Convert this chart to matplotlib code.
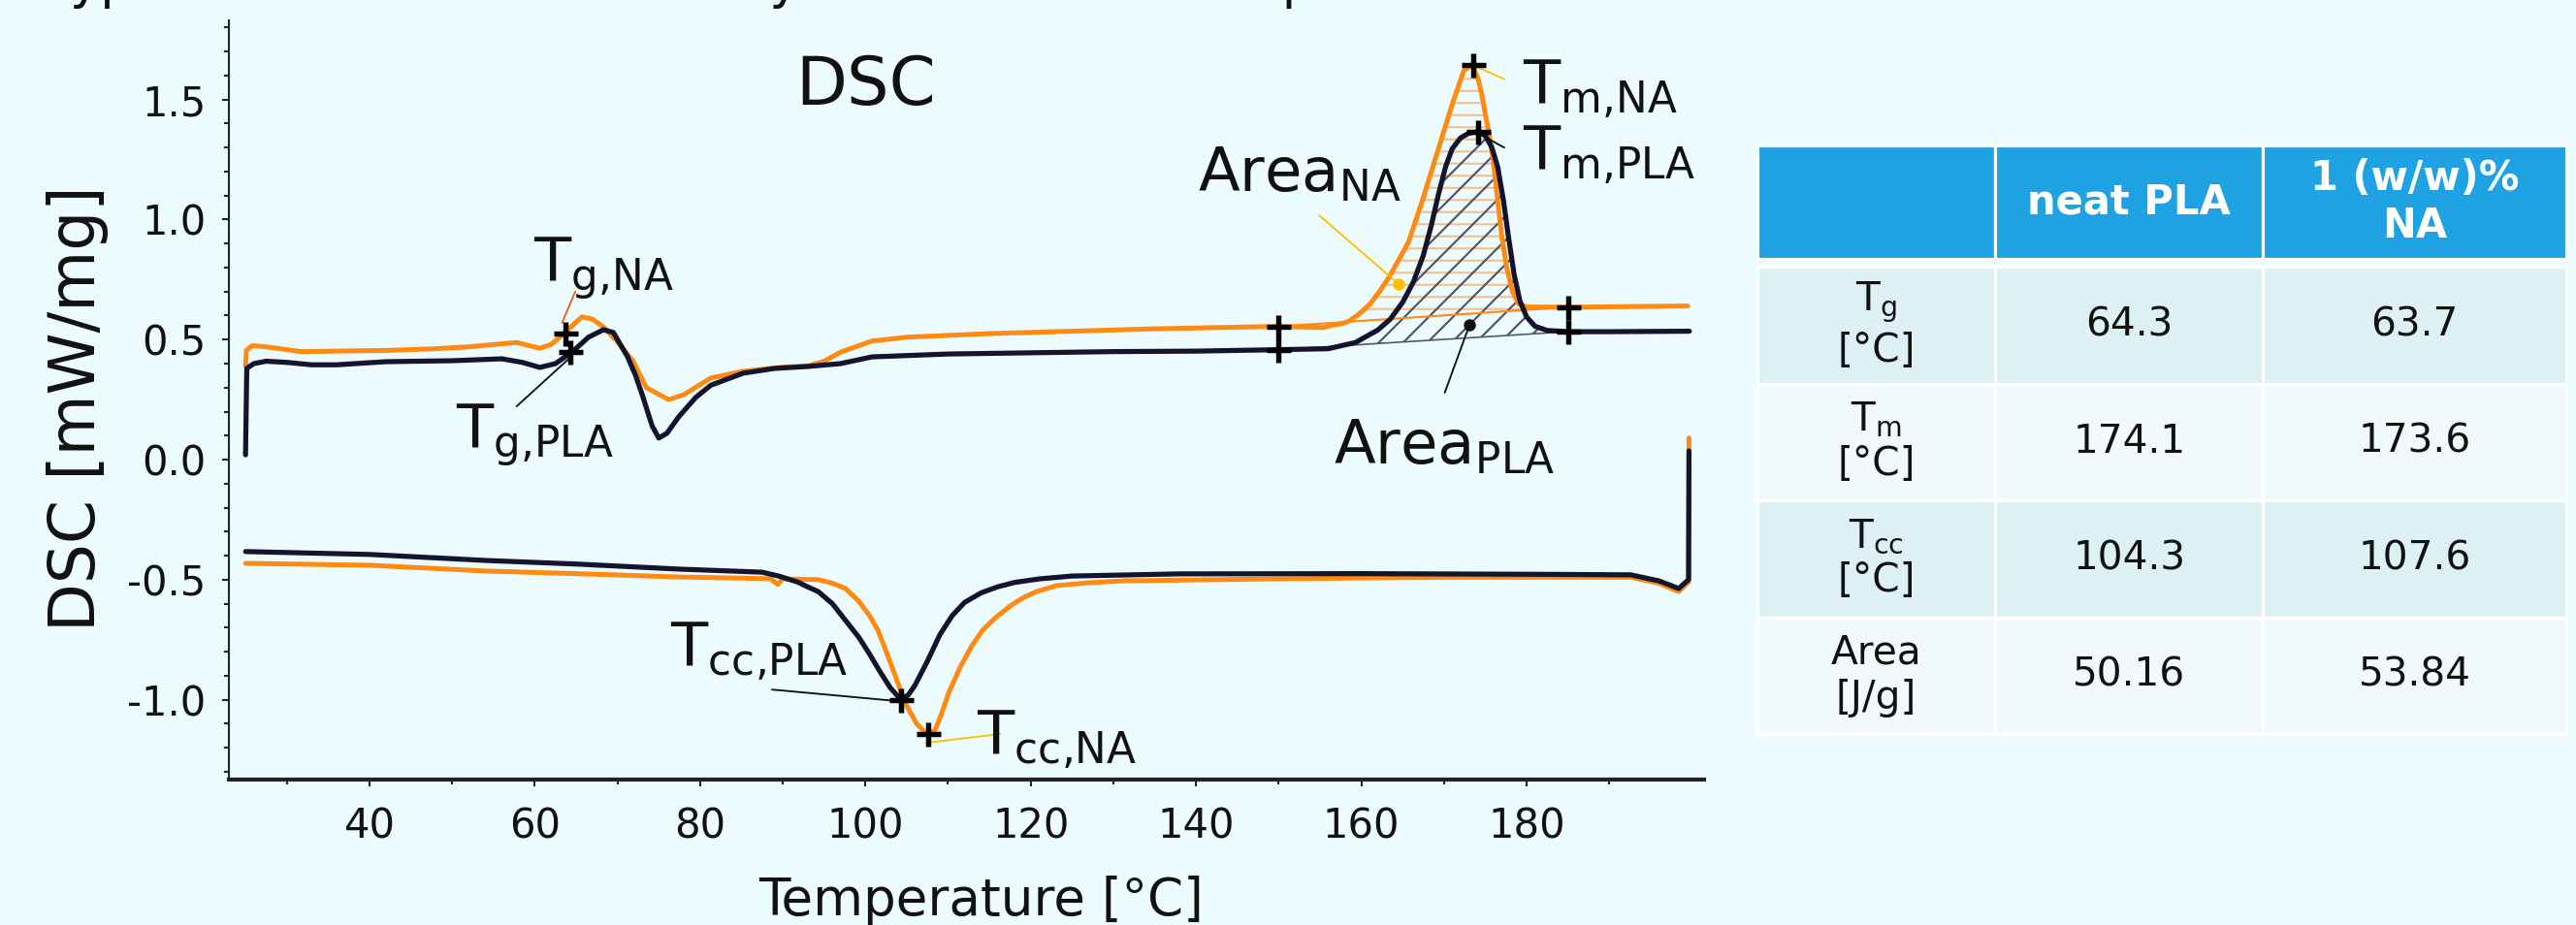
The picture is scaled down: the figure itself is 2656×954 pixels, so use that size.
"""
plot.py - DSC curves of neat PLA vs. PLA + 1 (w/w)% NA.

Heating (upper) and cooling (lower) traces with the evaluated
Tg / Tcc / Tm points, the hatched melting areas and a result table.
"""

import numpy as np
import matplotlib
matplotlib.use("Agg")  # headless
import matplotlib.pyplot as plt

# ---------------------------------------------------------------------------
# Data
# ---------------------------------------------------------------------------

# heating run, neat PLA
heat_pla_t = [25.0, 25.15, 26.0, 27.5, 30, 33, 36, 42, 50, 56, 58.5, 60.6, 62.5,
              64.5, 66.5, 68.3, 69.5, 71.2, 72.2, 73.0, 74.2, 75.0, 76.0, 77.4,
              79.5, 81.3, 85.2, 89, 93, 97, 100.8, 110, 120, 130, 140, 150, 156,
              159.3, 162.0, 163.5, 165.0, 166.3, 167.5, 168.5, 169.3, 170.2,
              171.0, 172.0, 173.0, 174.1, 175.0, 175.8, 176.5, 177.2, 177.8,
              178.5, 179.2, 180.0, 181.0, 182.5, 185, 190, 199.7]
heat_pla_v = [0.02, 0.38, 0.40, 0.41, 0.405, 0.395, 0.395, 0.408, 0.412, 0.42,
              0.405, 0.384, 0.40, 0.448, 0.51, 0.541, 0.53, 0.43, 0.35, 0.27,
              0.14, 0.09, 0.11, 0.178, 0.26, 0.31, 0.36, 0.38, 0.388, 0.40,
              0.428, 0.44, 0.445, 0.45, 0.452, 0.458, 0.462, 0.488, 0.54, 0.585,
              0.655, 0.74, 0.85, 0.98, 1.10, 1.22, 1.295, 1.34, 1.36, 1.366,
              1.35, 1.30, 1.22, 1.08, 0.93, 0.77, 0.66, 0.595, 0.556, 0.538,
              0.533, 0.533, 0.535]

# heating run, 1 (w/w)% NA
heat_na_t = [25.0, 25.1, 25.8, 27.5, 31.7, 36, 42.2, 48, 52, 57.8, 60.6, 62.0,
             63.5, 65.7, 67.0, 68.4, 70.0, 71.9, 73.5, 76.2, 78.0, 81.3, 85.2,
             90, 93, 95, 97, 100.8, 105, 115, 125, 135, 150, 155.4, 156.5,
             157.5, 158.4, 159.5, 160.5, 161.1, 162.2, 163.3, 164.5, 165.7,
             167.4, 169.2, 171.0, 172.4, 173.4, 174.1, 174.6, 175.0, 175.5,
             176.0, 176.5, 177.0, 177.6, 178.3, 179.0, 180.0, 185, 199.5]
heat_na_v = [0.39, 0.455, 0.475, 0.47, 0.45, 0.452, 0.455, 0.462, 0.47, 0.488,
             0.464, 0.48, 0.525, 0.595, 0.585, 0.55, 0.49, 0.41, 0.30, 0.25,
             0.27, 0.34, 0.368, 0.385, 0.39, 0.41, 0.448, 0.494, 0.51, 0.525,
             0.535, 0.545, 0.555, 0.55, 0.56, 0.565, 0.575, 0.60, 0.63, 0.65,
             0.70, 0.757, 0.83, 0.905, 1.08, 1.28, 1.48, 1.62, 1.645, 1.59,
             1.52, 1.44, 1.35, 1.24, 1.08, 0.93, 0.80, 0.70, 0.65, 0.636,
             0.635, 0.64]

# cooling run, neat PLA
cool_pla_t = [25.0, 40, 54, 65, 77.4, 87.5, 89.5, 91.8, 93.0, 94.3, 96.0, 97.6,
              99.2, 100.5, 101.8, 103.0, 104.3, 105.2, 106.0, 107.5, 109.0,
              110.5, 112.0, 114.0, 116.0, 118.0, 121.0, 125.0, 138, 160, 182.9,
              192.6, 196, 198.4, 199.6, 199.65]
cool_pla_v = [-0.383, -0.395, -0.42, -0.435, -0.456, -0.469, -0.485, -0.51,
              -0.53, -0.55, -0.60, -0.67, -0.74, -0.81, -0.885, -0.95, -1.0,
              -0.98, -0.94, -0.84, -0.73, -0.65, -0.595, -0.555, -0.53, -0.512,
              -0.497, -0.485, -0.476, -0.475, -0.478, -0.48, -0.505, -0.537,
              -0.50, 0.036]

# cooling run, 1 (w/w)% NA
cool_na_t = [25.0, 40, 54, 65, 77.4, 88.5, 89.4, 90.0, 94.3, 96.0, 97.6, 99.2,
             100.5, 101.5, 102.3, 103.5, 104.9, 106.2, 107.4, 108.4, 109.2,
             110.1, 111.4, 112.8, 114.2, 115.7, 117.5, 119.1, 120.7, 123.1,
             127.0, 131.2, 151.4, 170, 183, 192.6, 196, 198.4, 199.6, 199.65]
cool_na_v = [-0.432, -0.44, -0.464, -0.475, -0.489, -0.496, -0.52, -0.497, -0.50,
             -0.515, -0.537, -0.59, -0.65, -0.71, -0.78, -0.89, -1.02, -1.10,
             -1.143, -1.13, -1.06, -0.97, -0.87, -0.78, -0.71, -0.66, -0.61,
             -0.575, -0.55, -0.525, -0.513, -0.505, -0.496, -0.49, -0.49,
             -0.49, -0.515, -0.55, -0.51, 0.09]

# evaluated points (+ markers)
pts_pla_t = [64.3, 174.1, 104.3, 150, 185]
pts_pla_v = [0.448, 1.366, -1.0, 0.458, 0.533]
pts_na_t = [63.7, 173.6, 107.6, 150, 185]
pts_na_v = [0.525, 1.645, -1.143, 0.555, 0.635]

# melting integration limits and baseline end values
area_limits = [150, 185]
base_pla = [0.458, 0.533]
base_na = [0.555, 0.635]

# result table
table_cols = ["", "neat PLA", "1 (w/w)%\nNA"]
table_rows = ["$T_g$\n[°C]", "$T_m$\n[°C]", "$T_{cc}$\n[°C]", "Area\n[J/g]"]
val_pla = ["64.3", "174.1", "104.3", "50.16"]
val_na = ["63.7", "173.6", "107.6", "53.84"]

# ---------------------------------------------------------------------------
# Style
# ---------------------------------------------------------------------------

BG = "#ECFCFE"
ORANGE = "#FF8A12"
NAVY = "#14142E"
GOLD = "#FFC000"
RED = "#E8601C"
INK = "#111111"

plt.rcParams["font.family"] = ["DejaVu Sans"]
plt.rcParams["axes.unicode_minus"] = False
plt.rcParams["mathtext.default"] = "regular"
plt.rcParams["hatch.linewidth"] = 1.0

fig = plt.figure(figsize=(2656 / 150, 954 / 150), dpi=150, facecolor=BG)

# cut-off slide title (only descenders remain visible at the top edge)
fig.text(0.018, 1.0026, "Typical DSC curves and analysis of the selected peaks",
         fontsize=25.4, ha="left", va="baseline", color=INK)

# ---------------------------------------------------------------------------
# DSC plot
# ---------------------------------------------------------------------------

ax = fig.add_axes([0.0889, 0.1572, 0.5727, 0.8208])
ax.set_facecolor(BG)

# hatched melting areas
grid = np.linspace(area_limits[0], area_limits[1], 500)
for t, v, base, col, hatch in [
    (heat_na_t, heat_na_v, base_na, "#F2C08E", "--"),
    (heat_pla_t, heat_pla_v, base_pla, "#4E4E68", "//"),
]:
    curve = np.interp(grid, t, v)
    line = np.interp(grid, area_limits, base)
    ax.fill_between(grid, line, curve, where=curve >= line, facecolor="none",
                    edgecolor=col, hatch=hatch, linewidth=0, zorder=1)

ax.plot(area_limits, base_na, color=ORANGE, lw=1.0, zorder=2)
ax.plot(area_limits, base_pla, color="#55556A", lw=0.8, zorder=2)

# curves
line_kw = dict(solid_joinstyle="round", solid_capstyle="round")
ax.plot(heat_na_t, heat_na_v, color=ORANGE, lw=2.4, zorder=3, **line_kw)
ax.plot(cool_na_t, cool_na_v, color=ORANGE, lw=2.4, zorder=3, **line_kw)
ax.plot(heat_pla_t, heat_pla_v, color=NAVY, lw=2.5, zorder=4, **line_kw)
ax.plot(cool_pla_t, cool_pla_v, color=NAVY, lw=2.5, zorder=4, **line_kw)

# evaluated points
for t, v in [(pts_na_t, pts_na_v), (pts_pla_t, pts_pla_v)]:
    ax.plot(t, v, "+", color="black", ms=12, mew=2.6, zorder=6, clip_on=False)

# labels with leader lines: (text, text pos, line start, line end, colour, dot)
notes = [
    ("$T_{g{,}NA}$", (59.8, 0.743), (63.3, 0.57), (64.9, 0.70), RED, False),
    ("$T_{g{,}PLA}$", (50.4, 0.048), (64.5, 0.432), (57.8, 0.222), INK, False),
    ("$T_{cc{,}PLA}$", (76.4, -0.861), (103.9, -1.006), (88.7, -0.958), INK, False),
    ("$T_{cc{,}NA}$", (113.5, -1.228), (107.3, -1.18), (116.3, -1.143), GOLD, False),
    ("$T_{m{,}NA}$", (179.5, 1.483), (173.4, 1.645), (177.3, 1.585), GOLD, False),
    ("$T_{m{,}PLA}$", (179.5, 1.208), (174.1, 1.36), (177.3, 1.30), INK, False),
    ("$Area_{NA}$", (140.2, 1.115), (164.5, 0.732), (154.9, 1.018), GOLD, True),
    ("$Area_{PLA}$", (156.6, -0.016), (173.1, 0.562), (170.1, 0.279), INK, True),
]
for text, xy_text, p0, p1, col, dot in notes:
    ax.text(*xy_text, text, fontsize=30, ha="left", va="baseline", color=INK,
            zorder=7)
    ax.annotate("", xy=p0, xytext=p1,
                arrowprops=dict(arrowstyle="-", color=col, lw=0.9,
                                shrinkA=0, shrinkB=0), zorder=5)
    if dot:
        ax.plot(*p0, "o", color=col, ms=5, zorder=6)

ax.text(100, 1.479, "DSC", fontsize=33, ha="center", va="baseline", color=INK)

# axes
ax.set_xlim(23.0, 201.5)
ax.set_ylim(-1.333, 1.83)
ax.set_xticks(range(40, 181, 20))
ax.set_xticks(range(30, 191, 20), minor=True)
ax.yaxis.set_major_locator(plt.MultipleLocator(0.5))
ax.yaxis.set_minor_locator(plt.MultipleLocator(0.1))

for side in ("top", "right"):
    ax.spines[side].set_visible(False)
ax.spines["left"].set_linewidth(1.0)
ax.spines["bottom"].set_linewidth(2.0)
for side in ("left", "bottom"):
    ax.spines[side].set_color("#222222")

ax.tick_params(which="both", direction="out", colors="#222222", width=1.0,
               labelsize=20, labelcolor=INK)
ax.tick_params(which="major", length=3.4)
ax.tick_params(which="minor", length=2.2)
ax.tick_params(axis="x", pad=10)
ax.tick_params(axis="y", pad=8)

ax.set_xlabel("Temperature [°C]", fontsize=25.5, color=INK)
ax.xaxis.set_label_coords(0.510, -0.1264)
ax.set_ylabel("DSC [mW/mg]", fontsize=31, color=INK)
ax.yaxis.set_label_coords(-0.0815, 0.489)

# ---------------------------------------------------------------------------
# Result table
# ---------------------------------------------------------------------------

tax = fig.add_axes([0.6822, 0.2065, 0.3140, 0.6363])
tax.axis("off")
col_w = [0.294, 0.331, 0.375]

head = tax.table(cellText=[table_cols], colWidths=col_w, cellLoc="center",
                 bbox=[0, 0.8072, 1, 0.1928])
body = tax.table(cellText=[[r, a, b] for r, a, b in zip(table_rows, val_pla, val_na)],
                 colWidths=col_w, cellLoc="center", bbox=[0, 0, 1, 0.794])

for tbl in (head, body):
    tbl.auto_set_font_size(False)
    tbl.set_fontsize(19.5)

for cell in head.get_celld().values():
    cell.set_facecolor("#1EA2E2")
    cell.set_edgecolor("white")
    cell.set_linewidth(1.5)
    cell.get_text().set_color("white")
    cell.get_text().set_fontweight("bold")
    cell.get_text().set_fontsize(20)

for (r, c), cell in body.get_celld().items():
    cell.set_facecolor("#DDF1F5" if r % 2 == 0 else "#F1F9FB")
    cell.set_edgecolor("white")
    cell.set_linewidth(1.5)
    cell.get_text().set_color(INK)

fig.savefig("out.png", dpi=150, facecolor=BG)
